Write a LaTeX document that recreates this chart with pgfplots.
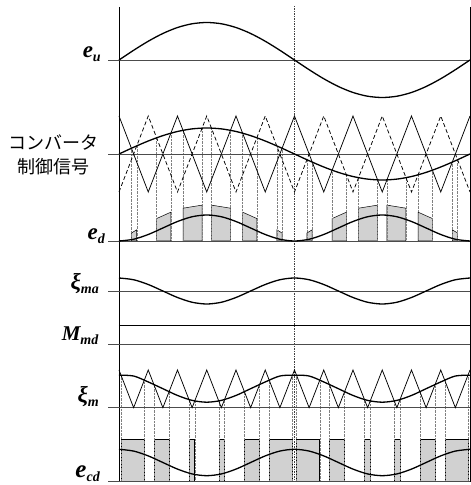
\documentclass[border=0pt]{standalone}
\usepackage{fontspec}
\setmainfont{Liberation Serif}
\newfontfamily\jp{Noto Sans CJK JP}
\usepackage{pgfplots}
\pgfplotsset{compat=1.18}
% #1 size of main letter, #2 main letter (with weight), #3 subscript
\newcommand\lbl[3]{{\fontsize{#1}{#1}\selectfont\itshape #2\raisebox{-4pt}{\fontsize{14}{14}\selectfont\bfseries #3}}}
\tikzset{
  curve/.style={black,line width=1.3pt,smooth},
  base/.style={black!70,line width=0.5pt},
  tri/.style={black,line width=0.75pt},
  vdot/.style={black!50,line width=0.4pt,densely dotted},
  bar/.style={fill=black!18,draw=black,line width=0.5pt},
}
\begin{document}
\begin{tikzpicture}
\begin{axis}[width=471pt,height=485pt,scale only axis,
  xmin=-122.05,xmax=361.03,ymin=0,ymax=485,hide axis,clip=false,
  unbounded coords=jump]
% ---- e_d pulses
\addplot[bar] coordinates {(12.74,244) (12.74,251.94) (18.20,255.24) (18.20,244)} -- cycle;
\addplot[bar] coordinates {(38.60,244) (38.60,266.46) (53.22,272.83) (53.22,244)} -- cycle;
\addplot[bar] coordinates {(65.65,244) (65.65,276.80) (85.23,279.88) (85.23,244)} -- cycle;
\addplot[bar] coordinates {(94.77,244) (94.77,279.88) (114.35,276.80) (114.35,244)} -- cycle;
\addplot[bar] coordinates {(126.78,244) (126.78,272.83) (141.40,266.46) (141.40,244)} -- cycle;
\addplot[bar] coordinates {(161.80,244) (161.80,255.24) (167.26,251.94) (167.26,244)} -- cycle;
\addplot[bar] coordinates {(192.74,244) (192.74,251.94) (198.20,255.24) (198.20,244)} -- cycle;
\addplot[bar] coordinates {(218.60,244) (218.60,266.46) (233.22,272.83) (233.22,244)} -- cycle;
\addplot[bar] coordinates {(245.65,244) (245.65,276.80) (265.23,279.88) (265.23,244)} -- cycle;
\addplot[bar] coordinates {(274.77,244) (274.77,279.88) (294.35,276.80) (294.35,244)} -- cycle;
\addplot[bar] coordinates {(306.78,244) (306.78,272.83) (321.40,266.46) (321.40,244)} -- cycle;
\addplot[bar] coordinates {(341.80,244) (341.80,255.24) (347.26,251.94) (347.26,244)} -- cycle;
% ---- e_cd pulses
\addplot[bar] coordinates {(2.08,4) (2.08,45.7) (25.89,45.7) (25.89,4)} -- cycle;
\addplot[bar] coordinates {(35.73,4) (35.73,45.7) (51.37,45.7) (51.37,4)} -- cycle;
\addplot[bar] coordinates {(71.76,4) (71.76,45.7) (77.68,45.7) (77.68,4)} -- cycle;
\addplot[bar] coordinates {(102.32,4) (102.32,45.7) (108.24,45.7) (108.24,4)} -- cycle;
\addplot[bar] coordinates {(128.63,4) (128.63,45.7) (144.27,45.7) (144.27,4)} -- cycle;
\addplot[bar] coordinates {(154.11,4) (154.11,45.7) (177.92,45.7) (177.92,4)} -- cycle;
\addplot[bar] coordinates {(182.08,4) (182.08,45.7) (205.89,45.7) (205.89,4)} -- cycle;
\addplot[bar] coordinates {(215.73,4) (215.73,45.7) (231.37,45.7) (231.37,4)} -- cycle;
\addplot[bar] coordinates {(251.76,4) (251.76,45.7) (257.68,45.7) (257.68,4)} -- cycle;
\addplot[bar] coordinates {(282.32,4) (282.32,45.7) (288.24,45.7) (288.24,4)} -- cycle;
\addplot[bar] coordinates {(308.63,4) (308.63,45.7) (324.27,45.7) (324.27,4)} -- cycle;
\addplot[bar] coordinates {(334.11,4) (334.11,45.7) (357.92,45.7) (357.92,4)} -- cycle;
% ---- vertical projection lines
\addplot[vdot] coordinates {
(12.74,336.73) (12.74,244) (nan,nan) (18.20,339.12) (18.20,244) (nan,nan)
(38.60,347.22) (38.60,244) (nan,nan) (53.22,351.82) (53.22,244) (nan,nan)
(65.65,354.69) (65.65,244) (nan,nan) (85.23,356.91) (85.23,244) (nan,nan)
(94.77,356.91) (94.77,244) (nan,nan) (114.35,354.69) (114.35,244) (nan,nan)
(126.78,351.82) (126.78,244) (nan,nan) (141.40,347.22) (141.40,244) (nan,nan)
(161.80,339.12) (161.80,244) (nan,nan) (167.26,336.73) (167.26,244) (nan,nan)
(192.74,325.27) (192.74,244) (nan,nan) (198.20,322.88) (198.20,244) (nan,nan)
(218.60,314.78) (218.60,244) (nan,nan) (233.22,310.18) (233.22,244) (nan,nan)
(245.65,307.31) (245.65,244) (nan,nan) (265.23,305.09) (265.23,244) (nan,nan)
(274.77,305.09) (274.77,244) (nan,nan) (294.35,307.31) (294.35,244) (nan,nan)
(306.78,310.18) (306.78,244) (nan,nan) (321.40,314.78) (321.40,244) (nan,nan)
(341.80,322.88) (341.80,244) (nan,nan) (347.26,325.27) (347.26,244)};
\addplot[vdot] coordinates {
(2.08,109.76) (2.08,4) (nan,nan) (25.89,104.66) (25.89,4) (nan,nan)
(35.73,100.58) (35.73,4) (nan,nan) (51.37,93.34) (51.37,4) (nan,nan)
(71.76,85.44) (71.76,4) (nan,nan) (77.68,84.03) (77.68,4) (nan,nan)
(102.32,84.03) (102.32,4) (nan,nan) (108.24,85.44) (108.24,4) (nan,nan)
(128.63,93.34) (128.63,4) (nan,nan) (144.27,100.58) (144.27,4) (nan,nan)
(154.11,104.66) (154.11,4) (nan,nan) (177.92,109.76) (177.92,4) (nan,nan)
(182.08,109.76) (182.08,4) (nan,nan) (205.89,104.66) (205.89,4) (nan,nan)
(215.73,100.58) (215.73,4) (nan,nan) (231.37,93.34) (231.37,4) (nan,nan)
(251.76,85.44) (251.76,4) (nan,nan) (257.68,84.03) (257.68,4) (nan,nan)
(282.32,84.03) (282.32,4) (nan,nan) (288.24,85.44) (288.24,4) (nan,nan)
(308.63,93.34) (308.63,4) (nan,nan) (324.27,100.58) (324.27,4) (nan,nan)
(334.11,104.66) (334.11,4) (nan,nan) (357.92,109.76) (357.92,4)};
% ---- frame lines
\addplot[black,line width=0.6pt] coordinates {(0,478) (0,3)};
\addplot[black,line width=0.6pt] coordinates {(360,478) (360,3)};
\addplot[black!75,line width=0.5pt,dash pattern=on 1.5pt off 1pt] coordinates {(180,479) (180,4)};
% ---- baselines
\addplot[base] coordinates {(-11,425) (360,425)};
\addplot[base] coordinates {(-11,331) (360,331)};
\addplot[base] coordinates {(-11,244) (360,244)};
\addplot[base] coordinates {(-11,194) (360,194)};
\addplot[base] coordinates {(-11,140.7) (360,140.7)};
\addplot[base] coordinates {(-11,77.3) (360,77.3)};
\addplot[base] coordinates {(-11,4) (360,4)};
% ---- e_u
\addplot[curve] coordinates {(0,425) (15,434.71) (30,443.75) (45,451.52) (60,457.48) (75,461.22) (90,462.5) (105,461.22) (120,457.48) (135,451.52) (150,443.75) (165,434.71) (180,425) (195,415.29) (210,406.25) (225,398.48) (240,392.52) (255,388.78) (270,387.5) (285,388.78) (300,392.52) (315,398.48) (330,406.25) (345,415.29) (360,425)};
% ---- converter control signals
\addplot[tri] coordinates {(0,369) (30,293) (60,369) (90,293) (120,369) (150,293) (180,369) (210,293) (240,369) (270,293) (300,369) (330,293) (360,369)};
\addplot[tri,dash pattern=on 4pt off 2.5pt] coordinates {(0,293) (30,369) (60,293) (90,369) (120,293) (150,369) (180,293) (210,369) (240,293) (270,369) (300,293) (330,369) (360,293)};
\addplot[curve] coordinates {(0,331) (15,337.73) (30,344) (45,349.38) (60,353.52) (75,356.11) (90,357) (105,356.11) (120,353.52) (135,349.38) (150,344) (165,337.73) (180,331) (195,324.27) (210,318) (225,312.62) (240,308.48) (255,305.89) (270,305) (285,305.89) (300,308.48) (315,312.62) (330,318) (345,324.27) (360,331)};
% ---- e_d
\addplot[curve] coordinates {(0,244) (15,245.74) (30,250.5) (45,257) (60,263.5) (75,268.26) (90,270) (105,268.26) (120,263.5) (135,257) (150,250.5) (165,245.74) (180,244) (195,245.74) (210,250.5) (225,257) (240,263.5) (255,268.26) (270,270) (285,268.26) (300,263.5) (315,257) (330,250.5) (345,245.74) (360,244)};
% ---- xi_ma
\addplot[curve] coordinates {(0,207) (15,205.26) (30,200.5) (45,194) (60,187.5) (75,182.74) (90,181) (105,182.74) (120,187.5) (135,194) (150,200.5) (165,205.26) (180,207) (195,205.26) (210,200.5) (225,194) (240,187.5) (255,182.74) (270,181) (285,182.74) (300,187.5) (315,194) (330,200.5) (345,205.26) (360,207)};
% ---- M_md
\addplot[black,line width=1.1pt] coordinates {(0,159.7) (360,159.7)};
% ---- xi_m
\addplot[tri] coordinates {(0,115) (15,77.3) (30,115) (45,77.3) (60,115) (75,77.3) (90,115) (105,77.3) (120,115) (135,77.3) (150,115) (165,77.3) (180,115) (195,77.3) (210,115) (225,77.3) (240,115) (255,77.3) (270,115) (285,77.3) (300,115) (315,77.3) (330,115) (345,77.3) (360,115)};
\addplot[curve] coordinates {(0,109.8) (15,108.99) (30,103.05) (45,96.3) (60,89.55) (75,84.61) (90,82.8) (105,84.61) (120,89.55) (135,96.3) (150,103.05) (165,108.99) (180,109.8) (195,108.99) (210,103.05) (225,96.3) (240,89.55) (255,84.61) (270,82.8) (285,84.61) (300,89.55) (315,96.3) (330,103.05) (345,108.99) (360,109.8)};
% ---- e_cd
\addplot[curve] coordinates {(0,35.7) (15,33.93) (30,29.1) (45,22.5) (60,15.9) (75,11.07) (90,9.3) (105,11.07) (120,15.9) (135,22.5) (150,29.1) (165,33.93) (180,35.7) (195,33.93) (210,29.1) (225,22.5) (240,15.9) (255,11.07) (270,9.3) (285,11.07) (300,15.9) (315,22.5) (330,29.1) (345,33.93) (360,35.7)};
% ---- labels
\node[anchor=base east,inner sep=0pt] at (axis cs:-18.5,427) {\lbl{23}{\bfseries e}{u}};
\node[align=center,font=\jp\fontsize{18}{24}\selectfont] at (axis cs:-66.7,330) {コンバータ\\制御信号};
\node[anchor=base east,inner sep=0pt] at (axis cs:-14.4,245) {\lbl{23}{\bfseries e}{d}};
\node[anchor=base east,inner sep=0pt] at (axis cs:-20.5,195) {\lbl{23}{\bfseries ξ}{ma}};
\node[anchor=base east,inner sep=0pt] at (axis cs:-21,144) {\lbl{21}{\bfseries M}{md}};
\node[anchor=base east,inner sep=0pt] at (axis cs:-20.5,82) {\lbl{23}{\bfseries ξ}{m}};
\node[anchor=base east,inner sep=0pt] at (axis cs:-19.5,7) {\lbl{25}{\bfseries e}{cd}};
\path (rel axis cs:0,0) rectangle (rel axis cs:1,1);
\end{axis}
\end{tikzpicture}
\end{document}
